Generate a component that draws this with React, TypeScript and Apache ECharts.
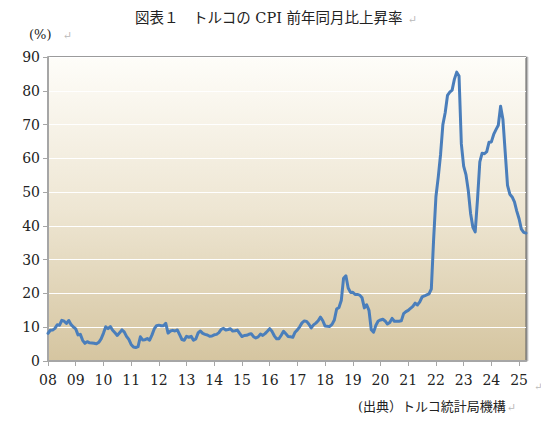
import { useEffect, useRef } from 'react';
import * as echarts from 'echarts';

// トルコ CPI 前年同月比 (%), 月次 2008年1月〜2025年4月
const cpi2008 = [8.17, 9.1, 9.15, 9.66, 10.74, 10.61, 12.06, 11.77, 11.13, 11.99, 10.76, 10.06];
const cpi2009 = [9.5, 7.73, 7.89, 6.13, 5.24, 5.73, 5.39, 5.33, 5.27, 5.08, 5.53, 6.53];
const cpi2010 = [8.19, 10.13, 9.56, 10.19, 9.1, 8.37, 7.58, 8.33, 9.24, 8.62, 7.29, 6.4];
const cpi2011 = [4.9, 4.16, 3.99, 4.26, 7.17, 6.24, 6.31, 6.65, 6.15, 7.66, 9.48, 10.45];
const cpi2012 = [10.61, 10.43, 10.43, 11.14, 8.28, 8.87, 9.07, 8.88, 9.19, 7.8, 6.37, 6.16];
const cpi2013 = [7.31, 7.03, 7.29, 6.13, 6.51, 8.3, 8.88, 8.17, 7.88, 7.71, 7.32, 7.4];
const cpi2014 = [7.75, 7.89, 8.39, 9.38, 9.66, 9.16, 9.32, 9.54, 8.86, 8.96, 9.15, 8.17];
const cpi2015 = [7.24, 7.55, 7.61, 7.91, 8.09, 7.2, 6.81, 7.14, 7.95, 7.58, 8.1, 8.81];
const cpi2016 = [9.58, 8.78, 7.46, 6.57, 6.58, 7.64, 8.79, 8.05, 7.28, 7.16, 7.0, 8.53];
const cpi2017 = [9.22, 10.13, 11.29, 11.87, 11.72, 10.9, 9.79, 10.68, 11.2, 11.9, 12.98, 11.92];
const cpi2018 = [10.35, 10.26, 10.23, 10.85, 12.15, 15.39, 15.85, 17.9, 24.52, 25.24, 21.62, 20.3];
const cpi2019 = [20.35, 19.67, 19.71, 19.5, 18.71, 15.72, 16.65, 15.01, 9.26, 8.55, 10.56, 11.84];
const cpi2020 = [12.15, 12.37, 11.86, 10.94, 11.39, 12.62, 11.76, 11.77, 11.75, 11.89, 14.03, 14.6];
const cpi2021 = [14.97, 15.61, 16.19, 17.14, 16.59, 17.53, 18.95, 19.25, 19.58, 19.89, 21.31, 36.08];
const cpi2022 = [48.69, 54.44, 61.14, 69.97, 73.5, 78.62, 79.6, 80.21, 83.45, 85.51, 84.39, 64.27];
const cpi2023 = [57.68, 55.18, 50.51, 43.68, 39.59, 38.21, 47.83, 58.94, 61.53, 61.36, 61.98, 64.77];
const cpi2024 = [64.86, 67.07, 68.5, 69.8, 75.45, 71.6, 61.78, 51.97, 49.38, 48.58, 47.09, 44.38];
const cpi2025 = [42.12, 39.05, 38.1, 37.86];

const startYear = 2008;
const yTicks = [0, 10, 20, 30, 40, 50, 60, 70, 80, 90];

const cpiValues = [
    ...cpi2008, ...cpi2009, ...cpi2010, ...cpi2011, ...cpi2012, ...cpi2013,
    ...cpi2014, ...cpi2015, ...cpi2016, ...cpi2017, ...cpi2018, ...cpi2019,
    ...cpi2020, ...cpi2021, ...cpi2022, ...cpi2023, ...cpi2024, ...cpi2025,
];
const months = cpiValues.map((_, i) => {
    const y = startYear + Math.floor(i / 12);
    const m = (i % 12) + 1;
    return `${y}-${String(m).padStart(2, '0')}`;
});

const serif = "'DejaVu Serif', 'Noto Sans CJK JP', serif";
const markColor = '#b8b8b8';

export default function App() {
    const chartRef = useRef<HTMLDivElement>(null);

    useEffect(() => {
        if (!chartRef.current) return;
        const chart = echarts.init(chartRef.current, null, { renderer: 'svg' });

        const isJan = (idx: number) => idx % 12 === 0;

        chart.setOption({
            animation: false,
            backgroundColor: '#ffffff',
            grid: {
                left: 48,
                right: 15,
                top: 57,
                bottom: 74,
                show: true,
                borderColor: '#5a5a5a',
                borderWidth: 1,
                shadowColor: 'rgba(0,0,0,0.35)',
                shadowOffsetX: 1.5,
                shadowOffsetY: 0,
                shadowBlur: 1,
                backgroundColor: new echarts.graphic.LinearGradient(0, 0, 0, 1, [
                    { offset: 0, color: '#fefdf9' },
                    { offset: 0.5, color: '#eee6d3' },
                    { offset: 1, color: '#d5c5a0' },
                ]),
            },
            xAxis: {
                type: 'category',
                data: months,
                boundaryGap: false,
                axisLine: { lineStyle: { color: '#a6a6a6', width: 2 } },
                axisTick: {
                    interval: (idx: number) => isJan(idx),
                    length: 5,
                    lineStyle: { color: '#a6a6a6', width: 1 },
                },
                axisLabel: {
                    interval: (idx: number) => isJan(idx),
                    formatter: (v: string) => v.slice(2, 4),
                    margin: 12,
                    color: '#222',
                    fontSize: 14,
                    fontFamily: serif,
                },
                splitLine: { show: false },
            },
            yAxis: {
                type: 'value',
                min: yTicks[0],
                max: yTicks[yTicks.length - 1],
                interval: 10,
                axisLine: { show: true, lineStyle: { color: '#a6a6a6', width: 2 } },
                axisTick: { show: true, length: 5, lineStyle: { color: '#a6a6a6' } },
                axisLabel: {
                    margin: 8,
                    color: '#222',
                    fontSize: 14,
                    fontFamily: serif,
                },
                splitLine: { lineStyle: { color: '#ffffff', width: 1 } },
            },
            series: [
                {
                    type: 'line',
                    data: cpiValues,
                    symbol: 'none',
                    lineStyle: { color: '#4a7ebb', width: 3, join: 'round', cap: 'round' },
                    z: 3,
                },
            ],
            graphic: [
                {
                    type: 'text',
                    x: 135,
                    y: 18,
                    style: {
                        text: '図表１　トルコの CPI 前年同月比上昇率',
                        font: `14.5px ${serif}`,
                        fill: '#222',
                        verticalAlign: 'middle',
                    },
                },
                {
                    type: 'text',
                    x: 408,
                    y: 19,
                    style: { text: '↵', font: `11px ${serif}`, fill: markColor, verticalAlign: 'middle' },
                },
                {
                    type: 'text',
                    x: 29,
                    y: 34,
                    style: { text: '(%)', font: `13px ${serif}`, fill: '#222', verticalAlign: 'middle' },
                },
                {
                    type: 'text',
                    x: 63,
                    y: 35,
                    style: { text: '↵', font: `11px ${serif}`, fill: markColor, verticalAlign: 'middle' },
                },
                {
                    type: 'text',
                    x: 534,
                    y: 386,
                    style: { text: '↵', font: `10px ${serif}`, fill: markColor, verticalAlign: 'middle' },
                },
                {
                    type: 'text',
                    x: 358,
                    y: 406,
                    style: {
                        text: '(出典）トルコ統計局機構',
                        font: `13px ${serif}`,
                        fill: '#222',
                        verticalAlign: 'middle',
                    },
                },
                {
                    type: 'text',
                    x: 507,
                    y: 407,
                    style: { text: '↵', font: `11px ${serif}`, fill: markColor, verticalAlign: 'middle' },
                },
            ],
        });

        return () => {
            chart.dispose();
        };
    }, []);

    return (
        <div
            ref={chartRef}
            style={{ position: 'fixed', left: 0, top: 0, width: 541, height: 435 }}
        />
    );
}
